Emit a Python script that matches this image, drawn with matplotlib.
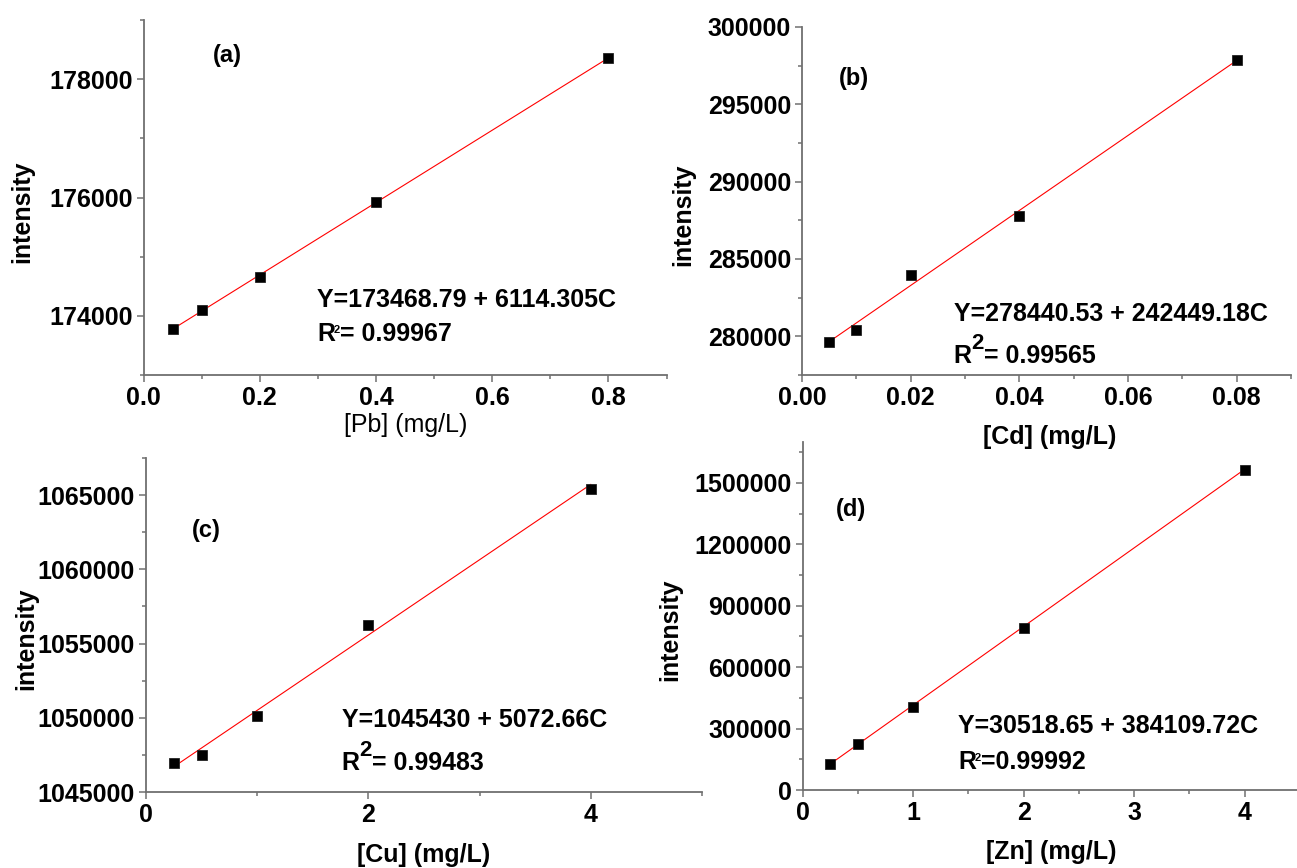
import matplotlib
matplotlib.use("Agg")
import matplotlib.pyplot as plt
from matplotlib.ticker import MultipleLocator, ScalarFormatter, FuncFormatter
import numpy as np

plt.rcParams['font.family'] = ['Liberation Sans', 'DejaVu Sans']
plt.rcParams['font.weight'] = 'bold'

# ---------------- data ----------------
pb_conc = [0.05, 0.1, 0.2, 0.4, 0.8]
pb_int = [173770, 174100, 174650, 175930, 178360]
pb_fit = (173468.79, 6114.305)
pb_eq = "Y=173468.79 + 6114.305C"
pb_r2 = "0.99967"

cd_conc = [0.005, 0.01, 0.02, 0.04, 0.08]
cd_int = [279650, 280440, 283940, 287760, 297860]
cd_fit = (278440.53, 242449.18)
cd_eq = "Y=278440.53 + 242449.18C"
cd_r2 = "0.99565"

cu_conc = [0.25, 0.5, 1, 2, 4]
cu_int = [1046970, 1047510, 1050130, 1056280, 1065400]
cu_fit = (1045430, 5072.66)
cu_eq = "Y=1045430 + 5072.66C"
cu_r2 = "0.99483"

zn_conc = [0.25, 0.5, 1, 2, 4]
zn_int = [125000, 224750, 407000, 789600, 1565000]
zn_fit = (30518.65, 384109.72)
zn_eq = "Y=30518.65 + 384109.72C"
zn_r2 = "0.99992"

W, H = 1297, 868
fig = plt.figure(figsize=(W / 100, H / 100), dpi=100)


def px_axes(left, right, top, bottom):
    return fig.add_axes([left / W, 1 - bottom / H, (right - left) / W, (bottom - top) / H])


SP = '#707070'


def style(ax, xlim, ylim, xmaj, xmin, ymaj, ymin):
    ax.set_xlim(*xlim)
    ax.set_ylim(*ylim)
    ax.xaxis.set_major_locator(MultipleLocator(xmaj))
    ax.xaxis.set_minor_locator(MultipleLocator(xmin))
    ax.yaxis.set_major_locator(MultipleLocator(ymaj))
    ax.yaxis.set_minor_locator(MultipleLocator(ymin))
    yf = ScalarFormatter(useOffset=False)
    yf.set_scientific(False)
    ax.yaxis.set_major_formatter(yf)
    for s in ['top', 'right']:
        ax.spines[s].set_visible(False)
    for s in ['left', 'bottom']:
        ax.spines[s].set_color(SP)
        ax.spines[s].set_linewidth(1.3)
    ax.tick_params(which='major', direction='out', length=5, width=1.1, color=SP,
                   labelsize=18, pad=3)
    ax.tick_params(which='minor', direction='out', length=3, width=1.1, color=SP)
    ax.set_facecolor('none')


def draw(ax, x, y, fit):
    xs = np.array([x[0], x[-1]])
    ax.plot(xs, fit[0] + fit[1] * xs, color='#ff0000', lw=0.8, zorder=2)
    ax.plot(x, y, 's', color='black', markersize=7.5, markeredgecolor='#222222',
            markeredgewidth=0.6, zorder=3, clip_on=False)


def r2_text(ax, x, y, val, big):
    tR = ax.text(x, y, 'R', transform=ax.transAxes, fontsize=18, fontweight='bold',
                 va='baseline', ha='left')
    if big:
        t2 = ax.annotate('2', xy=(1, 0), xycoords=tR, xytext=(0, 10),
                         textcoords='offset points', fontsize=16, fontweight='bold',
                         ha='left', va='bottom')
        ax.annotate('= ' + val, xy=(1, 0), xycoords=(t2, tR), xytext=(0, 0),
                    textcoords='offset points', fontsize=18, fontweight='bold',
                    ha='left', va='bottom')
    else:
        t2 = ax.annotate('2', xy=(1, 1), xycoords=tR, xytext=(-1, -2),
                         textcoords='offset points', fontsize=8, fontweight='bold',
                         ha='left', va='top')
        ax.annotate(val, xy=(1, 0), xycoords=(t2, tR), xytext=(0, 0),
                    textcoords='offset points', fontsize=18, fontweight='bold',
                    ha='left', va='bottom')


# ---------------- (a) Pb ----------------
ax = px_axes(143.5, 666.6, 20, 375)
style(ax, (0, 0.9), (173000, 179000), 0.2, 0.1, 2000, 1000)
draw(ax, pb_conc, pb_int, pb_fit)
ax.set_xlabel('[Pb] (mg/L)', fontsize=18, fontweight='normal', va='center')
ax.xaxis.set_label_coords(0.502, -0.141)
ax.set_ylabel('intensity', fontsize=18, fontweight='bold', va='center')
ax.yaxis.set_label_coords(-0.232, 0.46)
ax.text(0.133, 0.901, '(a)', transform=ax.transAxes, fontsize=17, fontweight='bold',
        va='center', ha='left')
ax.text(0.332, 0.192, pb_eq, transform=ax.transAxes, fontsize=18, fontweight='bold',
        va='baseline', ha='left')
r2_text(ax, 0.332, 0.096, '= ' + pb_r2, big=False)

# ---------------- (b) Cd ----------------
ax = px_axes(802, 1291, 27, 375)
style(ax, (0, 0.09), (277500, 300000), 0.02, 0.01, 5000, 2500)
ax.xaxis.set_major_formatter(FuncFormatter(lambda v, p: f"{v:.2f}"))
draw(ax, cd_conc, cd_int, cd_fit)
ax.set_xlabel('[Cd] (mg/L)', fontsize=18, fontweight='bold', va='center')
ax.xaxis.set_label_coords(0.507, -0.178)
ax.set_ylabel('intensity', fontsize=18, fontweight='bold', va='center')
ax.yaxis.set_label_coords(-0.243, 0.46)
ax.text(0.076, 0.853, '(b)', transform=ax.transAxes, fontsize=17, fontweight='bold',
        va='center', ha='left')
ax.text(0.31, 0.156, cd_eq, transform=ax.transAxes, fontsize=18, fontweight='bold',
        va='baseline', ha='left')
r2_text(ax, 0.31, 0.034, cd_r2, big=True)

# ---------------- (c) Cu ----------------
ax = px_axes(146, 702, 458, 792)
style(ax, (0, 5), (1045000, 1067500), 2, 1, 5000, 2500)
draw(ax, cu_conc, cu_int, cu_fit)
ax.set_xlabel('[Cu] (mg/L)', fontsize=18, fontweight='bold', va='center')
ax.xaxis.set_label_coords(0.5, -0.189)
ax.set_ylabel('intensity', fontsize=18, fontweight='bold', va='center')
ax.yaxis.set_label_coords(-0.216, 0.46)
ax.text(0.083, 0.784, '(c)', transform=ax.transAxes, fontsize=17, fontweight='bold',
        va='center', ha='left')
ax.text(0.352, 0.196, cu_eq, transform=ax.transAxes, fontsize=18, fontweight='bold',
        va='baseline', ha='left')
r2_text(ax, 0.352, 0.066, cu_r2, big=True)

# ---------------- (d) Zn ----------------
ax = px_axes(802.5, 1300, 442, 790)
style(ax, (0, 4.5), (0, 1700000), 1, 0.5, 300000, 150000)
draw(ax, zn_conc, zn_int, zn_fit)
ax.set_xlabel('[Zn] (mg/L)', fontsize=18, fontweight='bold', va='center')
ax.xaxis.set_label_coords(0.50, -0.178)
ax.set_ylabel('intensity', fontsize=18, fontweight='bold', va='center')
ax.yaxis.set_label_coords(-0.266, 0.46)
ax.text(0.067, 0.805, '(d)', transform=ax.transAxes, fontsize=17, fontweight='bold',
        va='center', ha='left')
ax.text(0.313, 0.164, zn_eq, transform=ax.transAxes, fontsize=18, fontweight='bold',
        va='baseline', ha='left')
r2_text(ax, 0.313, 0.06, '=' + zn_r2, big=False)

fig.savefig('out.png', dpi=100, facecolor='white')
